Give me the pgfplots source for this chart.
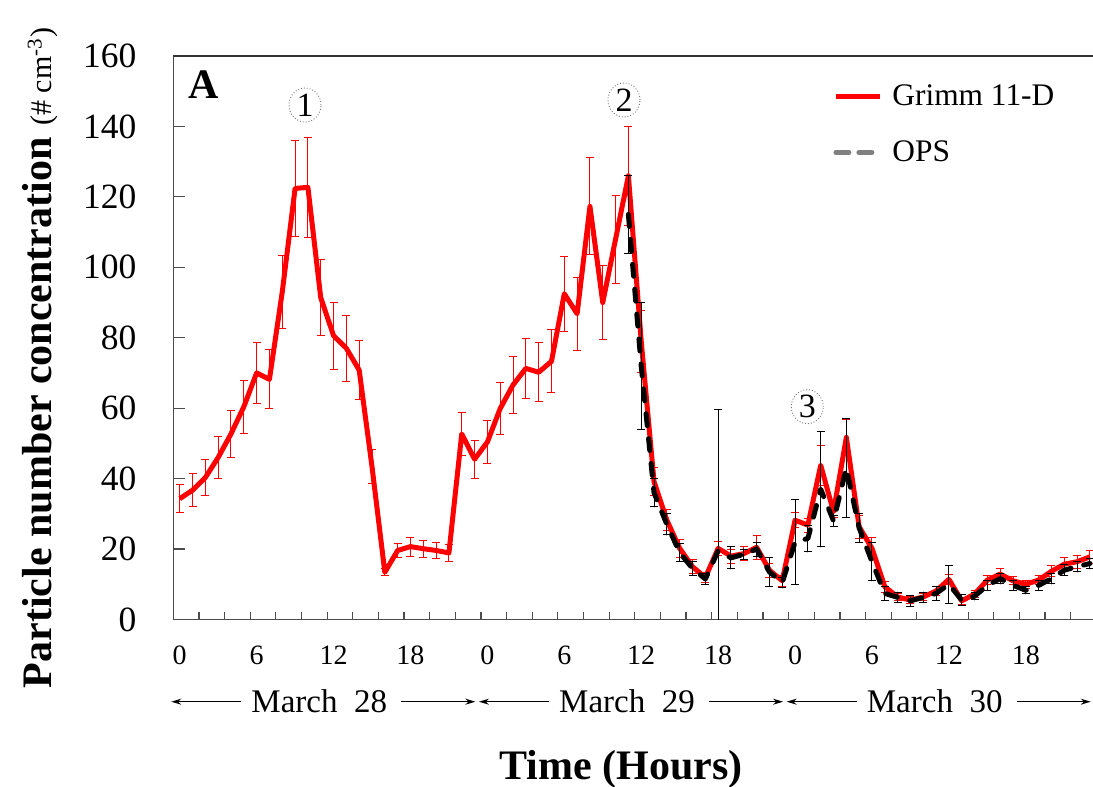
\documentclass[border=0pt]{standalone}
\usepackage{fontspec}
\setmainfont{Liberation Serif}
\usepackage{pgfplots}
\pgfplotsset{compat=1.18}
\usepackage{pgfplotstable}
\usetikzlibrary{arrows.meta}

\pgfplotstableread{
h v e
0 34.3 4
1 36.7 4.7
2 40.3 5
3 46 6
4 52.7 6.7
5 60.4 7.6
6 70 8.6
7 68.2 8.4
8 93 10.4
9 122.4 13.7
10 122.7 14.2
11 91.4 10.7
12 80.6 9.5
13 77 9.3
14 70.8 8.3
15 43.4 4.8
16 13.4 1
17 19.6 2
18 20.7 2.7
19 20.1 2.4
20 19.6 2.3
21 18.9 2.3
22 52.7 6.2
23 45.5 5.4
24 50.4 6
25 59.9 7.3
26 66.6 8
27 71.3 8.6
28 70.2 8.4
29 73.3 8.9
30 92.5 10.7
31 86.8 10.3
32 117.3 13.8
33 90 10.6
34 108 12.5
35 126 14
36 79 8.8
37 39.1 4
38 28.2 3
39 20.2 2.5
40 15 2
41 11.9 1.5
42 20.2 2
43 18 2
44 18.7 2
45 20.5 3.4
46 14 2
47 11 1.5
48 28.2 2.2
49 26.8 2
50 43.8 5.7
51 30.6 1.5
52 51.7 5
53 26.3 3.3
54 20.2 3
55 9.3 1.5
56 6.4 1
57 5.5 1
58 6.4 1
59 8.1 1.2
60 11.4 1.5
61 5.3 1
62 7.2 1
63 11.2 1.3
64 12.9 1.5
65 11 1.2
66 10 1.2
67 11.2 1.3
68 13.7 1.5
69 15.7 1.8
70 16.4 1.8
71 17.8 1.8
}\grimm

\pgfplotstableread{
h v e
35 115 11
36 72 18
37 36 4
38 27 3
39 19 2.5
40 14.5 2
41 11.5 1.5
42 19.5 40
43 17.5 3.1
44 18.5 1.5
45 20 2
46 13.5 4
47 10.5 1.5
48 22 12
49 23 3.8
50 37 16.4
51 28 1.5
52 43 14
53 26 4
54 16.4 5.4
55 7.4 2
56 6.3 1.5
57 5.3 1.5
58 6.3 1.5
59 7.4 2
60 10 5.4
61 5.5 1.5
62 6.6 1
63 9.7 1.5
64 11.6 1.5
65 9.7 1.5
66 8.3 1
67 9.7 1.5
68 11.6 1.5
69 14 1.5
70 15 1.5
71 15.9 1.5
}\ops

\begin{document}
\begin{tikzpicture}
\useasboundingbox (-86.65pt,-83.75pt) rectangle (459.85pt,309.75pt);
\begin{axis}[
  at={(0pt,0pt)}, anchor=south west,
  scale only axis, width=459.85pt, height=281.75pt,
  xmin=-0.5, xmax=71.24, ymin=0, ymax=160,
  axis x line*=bottom, axis y line*=left,
  axis line style={black!70, line width=0.7pt},
  tick align=inside,
  xtick={0,6,...,66},
  xticklabels={0,6,12,18,0,6,12,18,0,6,12,18},
  minor xtick={1.5,3.5,...,69.5},
  major x tick style={draw=none},
  ytick={0,20,...,160},
  major tick length=6pt, minor tick length=3.85pt,
  every tick/.style={black!70, line width=0.6pt},
  /pgf/number format/assume math mode=true,
  yticklabel style={font=\fontsize{17.75}{18}\selectfont, anchor=east, inner sep=0pt, xshift=-18.3pt},
  xticklabel style={font=\fontsize{14}{14}\selectfont, anchor=base, inner sep=0pt, yshift=-22.75pt},
  legend style={draw=none, fill=none, at={(0.7173,0.9574)}, anchor=north west,
    font=\fontsize{15.7}{18}\selectfont, row sep=12.2pt, column sep=3pt,
    inner sep=0pt, nodes={inner sep=2pt}},
  legend cell align=left,
  legend image code/.code={\draw[#1] (0pt,0pt) -- (22pt,0pt);},
]
\addlegendimage{red, line width=2.5pt}
\addlegendentry{Grimm 11-D}
\addlegendimage{black!50, line width=2.5pt, line cap=round, dash pattern=on 6.5pt off 5pt}
\addlegendentry{OPS}

\addplot[forget plot, red, line width=2.5pt, line join=round,
  error bars/.cd, y dir=both, y explicit,
  error bar style={red, line width=0.5pt, solid},
  error mark options={red, mark size=2pt, line width=0.5pt, rotate=90}]
  table[x=h, y=v, y error=e] {\grimm};

\addplot[forget plot, black, line width=2.5pt, line join=round, line cap=round,
  dash pattern=on 6pt off 6.5pt,
  error bars/.cd, y dir=both, y explicit,
  error bar style={black, line width=0.5pt, solid},
  error mark options={black, mark size=2pt, line width=0.5pt, rotate=90, solid}]
  table[x=h, y=v, y error=e] {\ops};
\end{axis}

% top border
\draw[black!80, line width=0.6pt] (0pt,281.75pt) -- (459.85pt,281.75pt);

% panel letter
\node[anchor=base west, inner sep=0pt] at (7.5pt,260.6pt) {\fontsize{21}{21}\selectfont\bfseries A};

% circled markers
\foreach \px/\py/\n in {65.85/257.25/1, 225.35/259.75/2, 317/106.4/3}{
  \draw[black!55, densely dotted, line width=0.45pt] (\px pt,\py pt) ellipse (8pt and 8.5pt);
  \node[inner sep=0pt] at (\px pt,\py pt) {\fontsize{17}{17}\selectfont\n};
}

% day labels with arrows
\foreach \d/\lab in {0/28, 1/29, 2/30}{
  \pgfmathsetmacro{\S}{153.85*\d}
  \node[anchor=base, inner sep=0pt] at (\S pt+73pt,-46.55pt) {\fontsize{16.5}{16.5}\selectfont March\hspace{0.5em}\lab};
  \draw[line width=0.5pt, -{Stealth[length=5pt, width=3pt]}] (\S pt+34pt,-41.1pt) -- (\S pt-1pt,-41.1pt);
  \draw[line width=0.5pt, -{Stealth[length=5pt, width=3pt]}] (\S pt+114pt,-41.1pt) -- (\S pt+151pt,-41.1pt);
}

% axis titles
\node[anchor=base] at (223.85pt,-80.25pt) {\fontsize{21}{21}\selectfont\bfseries Time (Hours)};
\node[rotate=90, anchor=base] at (-60.65pt,130.75pt) {\fontsize{21}{21}\selectfont\bfseries Particle number concentration\hspace{6pt}\fontsize{15}{15}\mdseries\selectfont (\# cm\textsuperscript{-3})};
\end{tikzpicture}
\end{document}
